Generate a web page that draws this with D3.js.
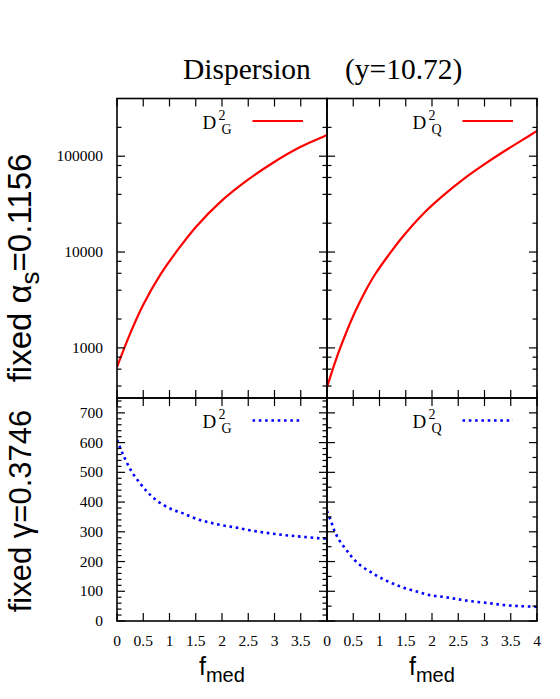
<!DOCTYPE html>
<html><head><meta charset="utf-8">
<script src="https://cdn.jsdelivr.net/npm/d3@7"></script>
<style>body{margin:0;background:#fff}</style></head>
<body>
<svg id="c" width="560" height="699"></svg>
<script>
// ---------------- data ----------------
const fGTop = [0, 0.25, 0.5, 0.82, 1.2, 1.52, 1.96, 2.47, 2.98, 3.49, 3.93, 4];
const dGTop = [631, 1410, 2820, 5750, 11300, 18700, 33000, 55500, 86000, 124500, 160000, 166500];
const fQTop = [0, 0.095, 0.22, 0.38, 0.54, 0.73, 0.92, 1.18, 1.43, 1.83, 2.21, 2.6, 2.98, 3.36, 3.74, 4];
const dQTop = [390, 566, 897, 1510, 2410, 3900, 5900, 9400, 14200, 25000, 38800, 57700, 81100, 111200, 149600, 184000];
const fGBot = [0, 0.12, 0.28, 0.44, 0.6, 0.79, 1.04, 1.26, 1.52, 1.77, 2.03, 2.28, 2.53, 2.79, 3.04, 3.3, 3.55, 3.87, 4];
const dGBot = [609, 558, 502, 463, 430, 401, 376, 362, 343, 331, 321, 314, 305, 298, 292, 287, 283, 278, 277];
const fQBot = [0, 0.09, 0.15, 0.25, 0.37, 0.47, 0.63, 0.82, 1.01, 1.24, 1.46, 1.71, 1.96, 2.22, 2.47, 2.72, 3.04, 3.35, 3.67, 3.96, 4];
const dQBot = [370, 329, 300, 267, 239, 216, 188, 166, 146, 127, 112, 99, 87, 81, 74, 67, 61, 54, 50, 48, 47];

const xTicks = [0, 0.5, 1, 1.5, 2, 2.5, 3, 3.5, 4];
const xLabelsLeft = ["0", "0.5", "1", "1.5", "2", "2.5", "3", "3.5"];
const xLabelsRight = ["0", "0.5", "1", "1.5", "2", "2.5", "3", "3.5", "4"];
const logMajor = [1000, 10000, 100000];
const logLabels = ["1000", "10000", "100000"];
const logMinor = [400, 600, 800, 2000, 4000, 6000, 8000, 20000, 40000, 60000, 80000, 200000];
const linMajor = [0, 100, 200, 300, 400, 500, 600, 700];
const linLabels = ["0", "100", "200", "300", "400", "500", "600", "700"];
const linMinorLeft = [20, 40, 60, 80, 120, 140, 160, 180, 220, 240, 260, 280, 320, 340, 360, 380, 420, 440, 460, 480, 520, 540, 560, 580, 620, 640, 660, 680, 720, 740];
const linMinorRight = [50, 150, 250, 350, 450, 550, 650];

const title = "Dispersion";
const titleRight = "(y=10.72)";
const rowLabels = [["fixed α", "s", "=0.1156"], ["fixed γ=0.3746", "", ""]];
const legendSub = ["G", "Q"];

// ---------------- layout ----------------
const svg = d3.select("#c");
const colX = [117, 327], W = 210;
const topY0 = 98.5, midY = 398, botY1 = 621;
const MAJ = 8, MIN = 4.5;

const xs = colX.map(x0 => d3.scaleLinear().domain([0, 4]).range([x0, x0 + W]));
const yTop = d3.scaleLog().domain([300, 400000]).range([midY, topY0]);
const yBot = d3.scaleLinear().domain([0, 750]).range([botY1, midY]);

const panels = [
  {col: 0, row: 0, y: yTop, f: fGTop, d: dGTop, color: "#ff0000", dash: null, sub: legendSub[0]},
  {col: 1, row: 0, y: yTop, f: fQTop, d: dQTop, color: "#ff0000", dash: null, sub: legendSub[1]},
  {col: 0, row: 1, y: yBot, f: fGBot, d: dGBot, color: "#0000ff", dash: "2.6,3.7", sub: legendSub[0]},
  {col: 1, row: 1, y: yBot, f: fQBot, d: dQBot, color: "#0000ff", dash: "2.6,3.7", sub: legendSub[1]},
];

const serif = "'Liberation Serif','Times New Roman',serif";
const sans = "'Liberation Sans',Arial,Helvetica,sans-serif";

panels.forEach(p => {
  const x = xs[p.col], y = p.y;
  const g = svg.append("g");
  const [xa, xb] = x.range();
  const [ya, yb] = y.range();
  const clipId = "clip" + p.col + p.row;
  svg.append("clipPath").attr("id", clipId).append("rect")
    .attr("x", xa).attr("y", yb).attr("width", xb - xa).attr("height", ya - yb);
  const line = d3.line().x((d, i) => x(p.f[i])).y(d => y(d)).curve(d3.curveCatmullRom.alpha(0.5));
  g.append("path").attr("d", line(p.d)).attr("fill", "none")
    .attr("stroke", p.color).attr("stroke-width", p.dash ? 2.6 : 2.2)
    .attr("stroke-dasharray", p.dash).attr("clip-path", `url(#${clipId})`);

  xTicks.forEach(t => {
    g.append("line").attr("x1", x(t)).attr("x2", x(t)).attr("y1", ya).attr("y2", ya - MAJ)
      .attr("stroke", "#000").attr("stroke-width", 1.2);
    g.append("line").attr("x1", x(t)).attr("x2", x(t)).attr("y1", yb).attr("y2", yb + MAJ)
      .attr("stroke", "#000").attr("stroke-width", 1.2);
  });
  const major = p.row === 0 ? logMajor : linMajor;
  const minor = p.row === 0 ? logMinor : (p.col === 0 ? linMinorLeft : linMinorRight);
  [[major, MAJ], [minor, MIN]].forEach(([vals, len]) => {
    vals.forEach(v => {
      g.append("line").attr("x1", xa).attr("x2", xa + len).attr("y1", y(v)).attr("y2", y(v))
        .attr("stroke", "#000").attr("stroke-width", 1.2);
      g.append("line").attr("x1", xb).attr("x2", xb - len).attr("y1", y(v)).attr("y2", y(v))
        .attr("stroke", "#000").attr("stroke-width", 1.2);
    });
  });
  g.append("rect").attr("x", xa).attr("y", yb).attr("width", xb - xa).attr("height", ya - yb)
    .attr("fill", "none").attr("stroke", "#000").attr("stroke-width", 1.6);

  if (p.col === 0) {
    const labs = p.row === 0 ? logLabels : linLabels;
    major.forEach((v, i) => {
      g.append("text").attr("x", xa - 14).attr("y", y(v) + 5).attr("text-anchor", "end")
        .attr("font-family", serif).attr("font-size", 15.5).text(labs[i]);
    });
  }
  if (p.row === 1) {
    const labs = p.col === 0 ? xLabelsLeft : xLabelsRight;
    labs.forEach((s, i) => {
      g.append("text").attr("x", x(xTicks[i])).attr("y", 646).attr("text-anchor", "middle")
        .attr("font-family", serif).attr("font-size", 15.5).text(s);
    });
    const lab = g.append("text").attr("x", x(2) - 23).attr("y", 675)
      .attr("font-family", sans).attr("font-size", 25);
    lab.append("tspan").text("f");
    lab.append("tspan").attr("dy", 7).attr("font-size", 20).text("med");
  }
  const lx = xb - 74.5, ly = yb + 22.5;
  g.append("line").attr("x1", lx).attr("x2", lx + 50.5).attr("y1", ly).attr("y2", ly)
    .attr("stroke", p.color).attr("stroke-width", p.dash ? 2.6 : 2.2).attr("stroke-dasharray", p.dash);
  g.append("text").attr("x", lx - 50).attr("y", ly + 7.5).attr("font-family", serif).attr("font-size", 19).text("D");
  g.append("text").attr("x", lx - 34).attr("y", ly - 1.5).attr("font-family", serif).attr("font-size", 14).text("2");
  g.append("text").attr("x", lx - 31).attr("y", ly + 12.5).attr("font-family", serif).attr("font-size", 14).text(p.sub);
});

svg.append("text").attr("x", 183).attr("y", 79).attr("font-family", serif).attr("font-size", 29.5).text(title);
svg.append("text").attr("x", 345).attr("y", 79).attr("font-family", serif).attr("font-size", 29.5).text(titleRight);

const rowCenters = [268, 511];
const rowSizes = [33, 31];
rowLabels.forEach((parts, i) => {
  const t = svg.append("text").attr("transform", `translate(31,${rowCenters[i]}) rotate(-90)`)
    .attr("text-anchor", "middle").attr("font-family", sans).attr("font-size", rowSizes[i]);
  t.append("tspan").text(parts[0]);
  if (parts[1]) {
    t.append("tspan").attr("dy", 8).attr("font-size", 26).text(parts[1]);
    t.append("tspan").attr("dy", -8).text(parts[2]);
  }
});
</script>
</body></html>
